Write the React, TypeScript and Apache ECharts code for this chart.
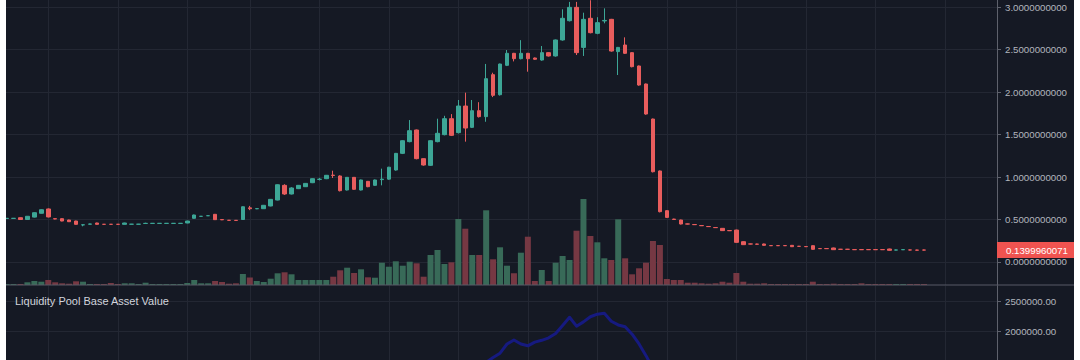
import React, { useEffect, useRef } from 'react';
import * as echarts from 'echarts';

// ---- data ----
const OPENS = [0.512,0.513,0.521,0.500,0.528,0.573,0.624,0.510,0.510,0.494,
 0.482,0.436,0.445,0.459,0.444,0.444,0.444,0.443,0.444,0.444,
 0.453,0.454,0.454,0.454,0.454,0.454,0.459,0.514,0.537,0.544,
 0.561,0.500,0.491,0.490,0.500,0.637,0.626,0.627,0.659,0.729,
 0.902,0.800,0.863,0.886,0.933,0.972,0.980,1.022,1.012,0.847,
 0.996,0.847,0.949,0.902,0.969,0.975,1.082,1.278,1.416,1.553,
 1.216,1.137,1.416,1.498,1.686,1.522,1.835,1.584,1.780,1.710,
 2.204,1.968,2.314,2.455,2.392,2.455,2.400,2.376,2.463,2.424,
 2.612,2.839,2.996,2.525,2.867,2.690,2.836,2.855,2.475,2.553,
 2.463,2.306,2.094,1.682,1.071,0.604,0.505,0.494,0.448,0.441,
 0.429,0.418,0.406,0.396,0.370,0.376,0.239,0.213,0.211,0.212,
 0.193,0.193,0.193,0.196,0.185,0.182,0.192,0.158,0.158,0.165,
 0.150,0.150,0.146,0.146,0.146,0.146,0.146,0.153,0.140,0.144,
 0.142,0.140,0.141];

const CLOSES = [0.514,0.514,0.500,0.538,0.580,0.615,0.530,0.506,0.482,0.474,
 0.443,0.438,0.447,0.443,0.443,0.443,0.443,0.459,0.445,0.445,
 0.455,0.455,0.455,0.455,0.455,0.455,0.482,0.553,0.538,0.545,
 0.498,0.496,0.490,0.489,0.650,0.627,0.628,0.667,0.737,0.909,
 0.800,0.871,0.902,0.925,0.980,0.974,1.020,1.018,0.839,0.996,
 0.855,0.965,0.886,0.965,0.975,1.115,1.278,1.427,1.545,1.216,
 1.141,1.427,1.514,1.686,1.490,1.835,1.576,1.780,1.710,2.157,
 1.961,2.329,2.455,2.392,2.455,2.392,2.385,2.463,2.424,2.612,
 2.867,2.996,2.463,2.855,2.698,2.816,2.842,2.482,2.525,2.455,
 2.298,2.082,1.741,1.062,0.592,0.525,0.500,0.447,0.446,0.439,
 0.427,0.416,0.404,0.369,0.368,0.231,0.204,0.211,0.209,0.196,
 0.192,0.192,0.192,0.180,0.184,0.180,0.149,0.157,0.157,0.145,
 0.149,0.149,0.145,0.145,0.145,0.145,0.145,0.137,0.142,0.146,
 0.141,0.139,0.1399960071];

const LOWS = [0.510,0.512,0.497,0.495,0.524,0.570,0.525,0.503,0.479,0.471,
 0.440,0.420,0.443,0.440,0.441,0.441,0.441,0.441,0.443,0.443,
 0.448,0.453,0.453,0.453,0.453,0.453,0.456,0.511,0.535,0.542,
 0.495,0.493,0.488,0.487,0.495,0.610,0.622,0.624,0.655,0.725,
 0.790,0.795,0.858,0.882,0.928,0.960,0.975,0.988,0.830,0.842,
 0.850,0.842,0.880,0.897,0.902,0.968,1.075,1.270,1.408,1.208,
 1.133,1.130,1.408,1.490,1.482,1.512,1.416,1.576,1.700,1.650,
 1.940,1.958,2.305,2.360,2.384,2.239,2.378,2.368,2.417,2.416,
 2.604,2.830,2.435,2.424,2.690,2.680,2.808,2.474,2.200,2.447,
 2.290,2.074,1.733,1.054,0.584,0.518,0.496,0.442,0.442,0.435,
 0.423,0.412,0.400,0.365,0.364,0.226,0.200,0.207,0.205,0.192,
 0.188,0.188,0.188,0.176,0.180,0.176,0.145,0.153,0.153,0.141,
 0.145,0.145,0.141,0.141,0.141,0.141,0.141,0.133,0.137,0.141,
 0.137,0.135,0.136];

const HIGHS = [0.516,0.517,0.524,0.541,0.584,0.620,0.630,0.513,0.513,0.497,
 0.485,0.441,0.450,0.462,0.447,0.446,0.446,0.462,0.448,0.448,
 0.462,0.458,0.458,0.458,0.458,0.458,0.485,0.557,0.541,0.548,
 0.565,0.503,0.494,0.493,0.654,0.660,0.631,0.671,0.741,0.913,
 0.915,0.880,0.906,0.929,0.984,0.990,1.024,1.074,1.020,1.000,
 1.000,0.970,0.953,0.970,1.098,1.120,1.283,1.432,1.670,1.558,
 1.220,1.432,1.686,1.720,1.740,1.906,1.992,1.906,1.880,2.330,
 2.227,2.334,2.494,2.460,2.610,2.460,2.405,2.541,2.468,2.617,
 2.973,3.060,3.060,2.933,3.080,2.880,2.984,2.860,2.530,2.643,
 2.468,2.311,2.099,1.687,1.076,0.609,0.509,0.498,0.452,0.445,
 0.433,0.422,0.410,0.400,0.374,0.380,0.243,0.217,0.215,0.216,
 0.197,0.197,0.197,0.200,0.189,0.186,0.196,0.162,0.162,0.169,
 0.154,0.154,0.150,0.150,0.150,0.150,0.150,0.157,0.146,0.150,
 0.146,0.144,0.145];

const VOLUMES = [10,10,10,27,40,33,50,27,17,13,
 37,33,10,10,10,20,10,17,17,10,
 23,10,10,10,10,10,20,50,17,17,
 40,30,13,17,110,75,40,30,63,117,
 127,107,50,50,50,50,50,83,147,173,
 120,157,77,73,223,183,237,193,233,217,
 83,300,350,210,227,660,563,300,300,747,
 257,377,193,117,323,483,40,150,40,223,
 290,250,543,860,490,427,267,250,657,267,
 107,167,223,440,400,60,50,50,23,23,
 17,13,17,33,23,120,33,13,13,17,
 10,10,10,10,10,10,33,10,10,13,
 10,10,10,17,10,10,10,10,10,10,
 10,10,10];

// Liquidity Pool Base Asset Value (visible part, starting at bar index LIQ_START)
const LIQ_START = 68;
const LIQ_VALUES = [1430000,1500000,1580000,1650000,1800000,1865000,1800000,1770000,1830000,1860000,
 1900000,1970000,2100000,2235000,2090000,2160000,2244000,2285000,2300000,2170000,
 2110000,2080000,1960000,1800000,1610000,1400000,1250000];

// bar slots on the time axis (data bars + empty right margin)
const SLOT_COUNT = 143;
// time-axis gridline slots
const GRID_SLOTS = [6,16,26,35,45,55,65,75,85,95,105,115,125,135];
const PRICE_TICK_STEP = 0.5;
const LIQ_TICK_STEP = 500000;

const TITLE = 'Liquidity Pool Base Asset Value';

const UP = '#3da696';
const DOWN = '#e85d5d';
const VOL_UP = '#386a58';
const VOL_DOWN = '#763843';
const BG = '#151924';
const GRID_C = '#232733';
const AXIS_C = '#5e616c';
const LABEL_C = '#b2b5be';
const FONT = '"Liberation Sans", Arial, sans-serif';

export default function App() {
  const ref = useRef<HTMLDivElement>(null);

  useEffect(() => {
    if (!ref.current) return;
    const chart = echarts.init(ref.current, null, { renderer: 'svg' });

    const cats = Array.from({ length: SLOT_COUNT }, (_, i) => String(i));
    const candles = OPENS.map((o, i) => [o, CLOSES[i], LOWS[i], HIGHS[i]]);
    const vols = VOLUMES.map((v, i) => ({
      value: v,
      itemStyle: { color: CLOSES[i] >= OPENS[i] ? VOL_UP : VOL_DOWN },
    }));
    const liq = cats.map((_, i) =>
      i >= LIQ_START && i < LIQ_START + LIQ_VALUES.length ? LIQ_VALUES[i - LIQ_START] : null
    );
    const last = CLOSES[CLOSES.length - 1];
    const gridFn = (idx: number) => GRID_SLOTS.indexOf(idx) >= 0;

    const xAxisBase = (gridIndex: number) => ({
      type: 'category',
      gridIndex,
      data: cats,
      boundaryGap: true,
      axisLine: { show: false },
      axisTick: { show: false },
      axisLabel: { show: false },
      splitLine: {
        show: true,
        alignWithLabel: true,
        interval: gridFn,
        lineStyle: { color: GRID_C, width: 1 },
      },
    });

    const option: any = {
      animation: false,
      backgroundColor: BG,
      title: {
        text: TITLE,
        left: 15,
        top: 295,
        padding: 0,
        textStyle: { color: '#d1d4dc', fontSize: 11, fontWeight: 'normal', fontFamily: FONT },
      },
      grid: [
        { left: 3.1, right: 83, top: 0, height: 285, outerBoundsMode: 'none', containLabel: false },
        { left: 3.1, right: 83, top: 285.65, height: 107.45, outerBoundsMode: 'none', containLabel: false },
      ],
      xAxis: [xAxisBase(0), xAxisBase(1)],
      yAxis: [
        {
          type: 'value',
          gridIndex: 0,
          position: 'right',
          min: -0.2706,
          max: 3.0824,
          axisLine: { show: true, lineStyle: { color: AXIS_C } },
          axisTick: { show: true, length: 4, lineStyle: { color: AXIS_C } },
          axisLabel: {
            color: LABEL_C,
            fontSize: 9.7,
            fontFamily: FONT,
            margin: 8,
            showMinLabel: false,
            showMaxLabel: false,
            formatter: (v: number) => {
              const k = v / PRICE_TICK_STEP;
              return Math.abs(k - Math.round(k)) < 1e-6 ? v.toFixed(10) : '';
            },
          },
          splitLine: { show: true, showMinLine: false, showMaxLine: false, lineStyle: { color: GRID_C } },
        },
        { type: 'value', gridIndex: 0, show: false, min: 0, max: 2850 },
        {
          type: 'value',
          gridIndex: 1,
          position: 'right',
          min: 1000000,
          max: 2750000,
          interval: LIQ_TICK_STEP,
          axisLine: { show: true, lineStyle: { color: AXIS_C } },
          axisTick: { show: true, length: 4, lineStyle: { color: AXIS_C } },
          axisLabel: {
            color: LABEL_C,
            fontSize: 9.7,
            fontFamily: FONT,
            margin: 8,
            showMaxLabel: false,
            formatter: (v: number) => (v % LIQ_TICK_STEP === 0 ? v.toFixed(2) : ''),
          },
          splitLine: { show: true, showMaxLine: false, lineStyle: { color: GRID_C } },
        },
      ],
      series: [
        {
          type: 'bar',
          xAxisIndex: 0,
          yAxisIndex: 1,
          data: vols,
          barWidth: 6,
          z: 1,
        },
        {
          type: 'candlestick',
          xAxisIndex: 0,
          yAxisIndex: 0,
          data: candles,
          barWidth: 4,
          z: 3,
          itemStyle: {
            color: UP,
            color0: DOWN,
            borderColor: UP,
            borderColor0: DOWN,
            borderWidth: 1,
          },
          markLine: {
            silent: true,
            symbol: ['none', 'none'],
            lineStyle: { color: 'rgba(0,0,0,0)', width: 0, type: 'solid' },
            emphasis: { disabled: true },
            label: {
              show: true,
              position: 'end',
              distance: 0,
              opacity: 1,
              formatter: () => last.toFixed(10),
              backgroundColor: '#ef5350',
              color: '#ffffff',
              fontSize: 9.7,
              fontFamily: FONT,
              lineHeight: 12,
              padding: [2, 8, 2, 9],
            },
            data: [{ yAxis: last }],
          },
        },
        {
          type: 'line',
          xAxisIndex: 1,
          yAxisIndex: 2,
          data: liq,
          showSymbol: false,
          connectNulls: false,
          lineStyle: { color: '#161a80', width: 3, join: 'round' },
        },
      ],
      graphic: [
        { type: 'rect', shape: { x: 0, y: 284.5, width: 1080, height: 1 }, style: { fill: '#585b66' }, z: 50, silent: true },
        { type: 'rect', shape: { x: 0, y: 0, width: 6, height: 360 }, style: { fill: '#ffffff' }, z: 100, silent: true },
        { type: 'rect', shape: { x: 1074, y: 0, width: 6, height: 360 }, style: { fill: '#ffffff' }, z: 100, silent: true },
      ],
    };

    chart.setOption(option);
    return () => chart.dispose();
  }, []);

  return (
    <div style={{ position: 'fixed', left: 0, top: 0, width: 1080, height: 360, background: '#ffffff' }}>
      <div ref={ref} style={{ width: 1080, height: 360 }} />
    </div>
  );
}
